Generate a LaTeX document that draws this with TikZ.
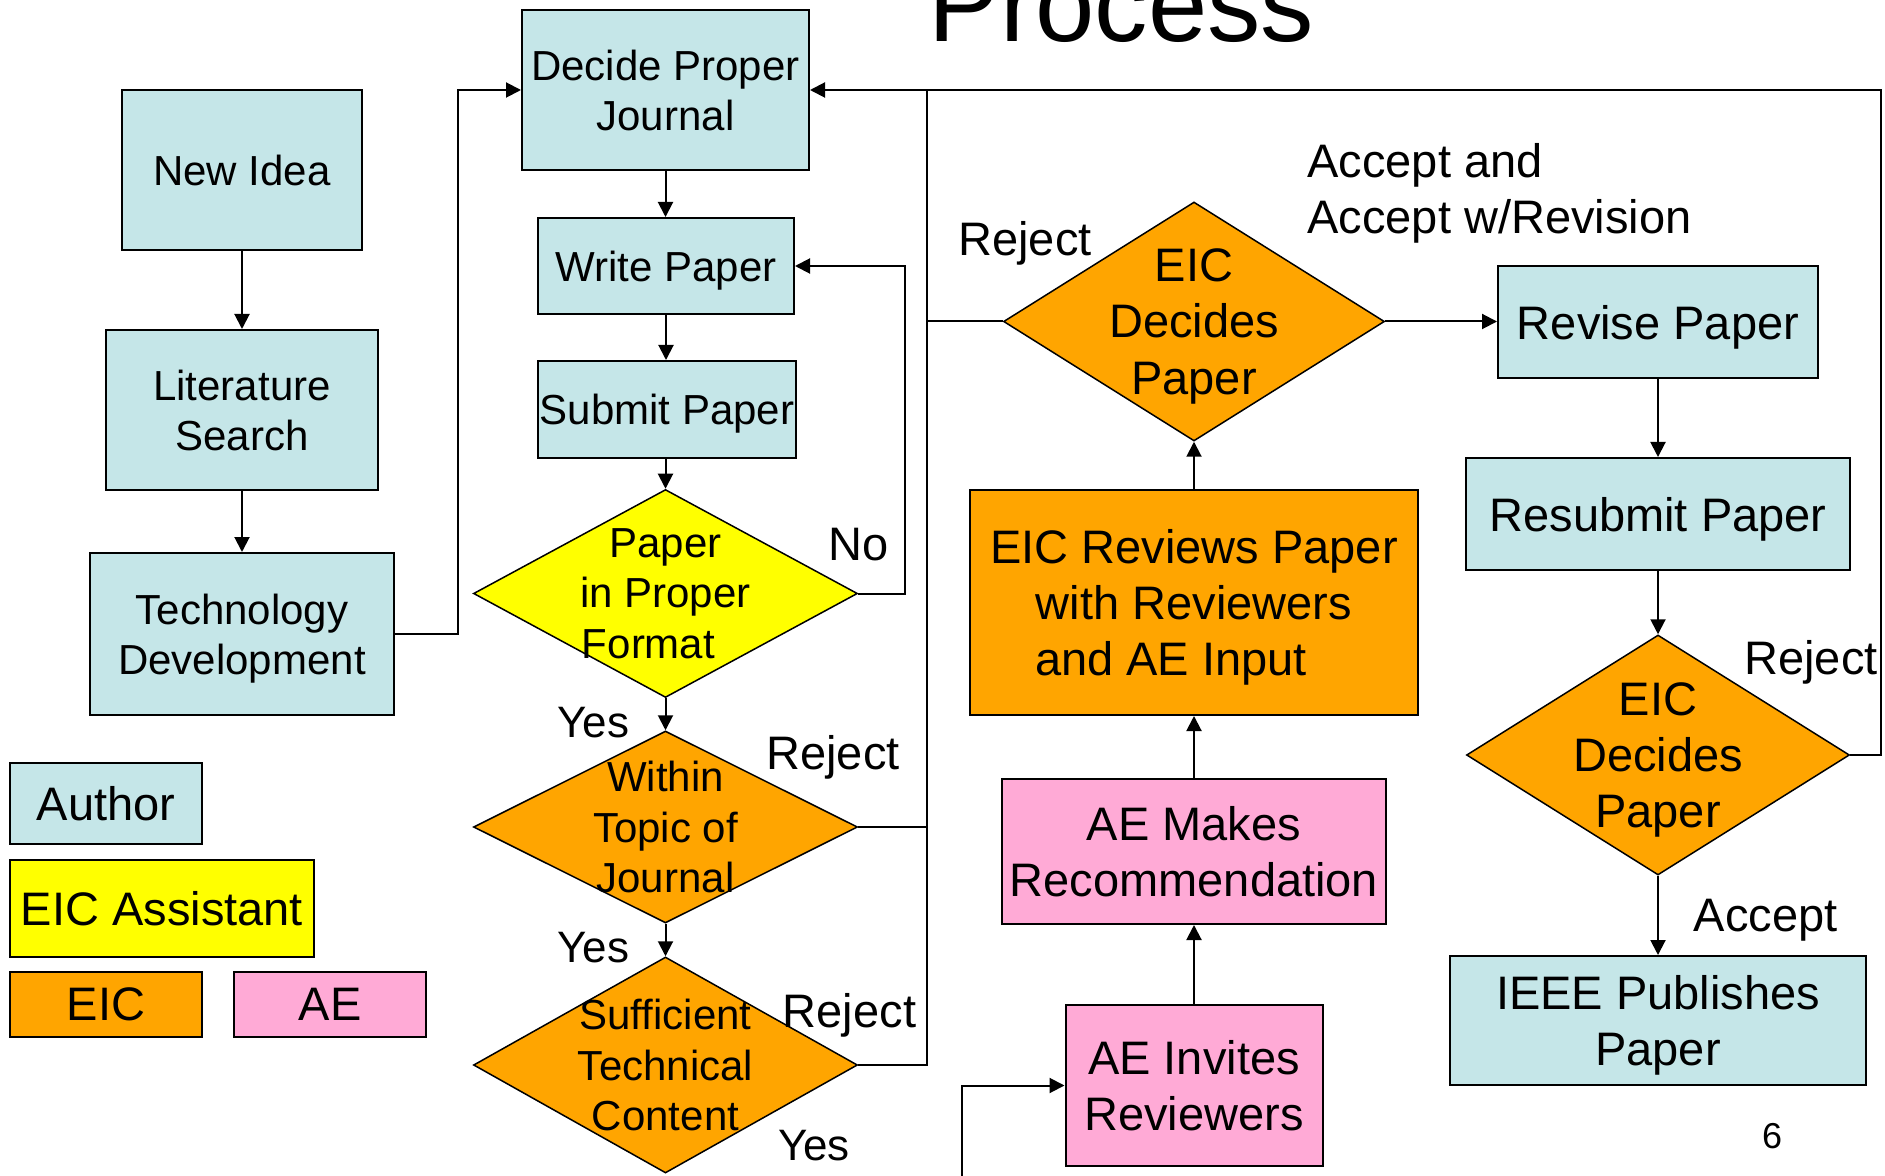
\documentclass[tikz,border=0pt]{standalone}
\usepackage{fontspec}
\setmainfont{Liberation Sans}
\usetikzlibrary{shapes.geometric,arrows.meta,calc}
\definecolor{authc}{RGB}{197,230,232}
\definecolor{eicc}{RGB}{255,165,0}
\definecolor{aec}{RGB}{255,170,214}
\definecolor{asstc}{RGB}{255,255,0}
\begin{document}
\begin{tikzpicture}[x=0.5pt,y=-0.5pt,
  every node/.style={inner sep=0pt},
  box/.style={draw, line width=1pt, rectangle, align=center, text depth=0pt},
  auth/.style={box, fill=authc},
  dia/.style={draw, line width=0.75pt, diamond, inner sep=0pt},
  dtext/.style={align=center, text depth=0pt},
  fs/.style={font=\fontsize{21}{25.2}\selectfont},
  fl/.style={font=\fontsize{23.5}{28.2}\selectfont},
  fy/.style={font=\fontsize{22}{26.4}\selectfont},
  conn/.style={line width=1pt},
  arr/.style={-{Triangle[length=7.5pt,width=7.5pt]}}]
\useasboundingbox (0,0) rectangle (1885,1176);

% title (cropped)
\node[font=\fontsize{53.3}{64}\selectfont, anchor=base west] (title) at (928.5,41.7) {Process};

% left column
\node[auth, fs, minimum width=120pt, minimum height=80pt] (newidea) at (242,170) {New Idea};
\node[auth, fs, minimum width=136pt, minimum height=80pt] (lit) at (242,410) {Literature\\Search};
\node[auth, fs, minimum width=152pt, minimum height=81pt] (tech) at (242,634) {Technology\\Development};

% middle column
\node[auth, fs, minimum width=143.5pt, minimum height=80pt] (decide) at (665.5,90) {Decide Proper\\Journal};
\node[auth, fs, minimum width=128pt, minimum height=48pt] (write) at (666,266) {Write Paper};
\node[auth, fs, minimum width=129pt, minimum height=48.5pt] (submit) at (667,409.5) {Submit Paper};
\node[dia, fill=asstc, minimum width=192pt, minimum height=104pt] (d1) at (665.5,593.5) {};
\node[fs, dtext] (d1t) at (d1) {Paper\\in Proper\\Format\hspace*{17pt}};
\node[dia, fill=eicc, minimum width=192pt, minimum height=96pt] (d2) at (665.5,827) {};
\node[fs, dtext] (d2t) at (d2) {Within\\Topic of\\Journal};
\node[dia, fill=eicc, minimum width=192pt, minimum height=108pt] (d3) at (665.5,1065) {};
\node[fs, dtext] (d3t) at (d3) {Sufficient\\Technical\\Content};

% legend
\node[auth, fl, minimum width=96pt, minimum height=40.5pt] (lauth) at (106,803.5) {Author};
\node[box, fill=asstc, fl, minimum width=152pt, minimum height=48.5pt] (lasst) at (162,908.5) {EIC Assistant};
\node[box, fill=eicc, fl, minimum width=96pt, minimum height=32.5pt] (leic) at (106,1004.5) {EIC};
\node[box, fill=aec, fl, minimum width=96pt, minimum height=32.5pt] (lae) at (330,1004.5) {AE};

% right part
\node[dia, fill=eicc, minimum width=190.5pt, minimum height=119.5pt] (e1) at (1194,321.5) {};
\node[fl, dtext] (e1t) at (e1) {EIC\\Decides\\Paper};
\node[auth, fl, minimum width=160pt, minimum height=56pt] (revise) at (1658,322) {Revise Paper};
\node[auth, fl, minimum width=192pt, minimum height=56pt] (resub) at (1658,514) {Resubmit Paper};
\node[box, fill=eicc, fl, minimum width=224pt, minimum height=112.5pt] (reviews) at (1194,602.5) {EIC Reviews Paper\\with Reviewers\\and AE Input\hspace*{23pt}};
\node[box, fill=aec, fl, minimum width=192pt, minimum height=72.5pt] (aemakes) at (1194,851.5) {AE Makes\\Recommendation};
\node[box, fill=aec, fl, minimum width=128.5pt, minimum height=80.5pt] (aeinv) at (1194,1085.5) {AE Invites\\Reviewers};
\node[dia, fill=eicc, minimum width=191.5pt, minimum height=120pt] (e2) at (1658,755) {};
\node[fl, dtext] (e2t) at (e2) {EIC\\Decides\\Paper};
\node[auth, fl, minimum width=208pt, minimum height=64.5pt] (ieee) at (1658,1020.5) {IEEE Publishes\\Paper};

% junctions
\coordinate (j1) at (458,90);
\coordinate (j2) at (905,266);
\coordinate (j3) at (927,90);
\coordinate (j4) at (1881,90);
\coordinate (j5) at (962,1176);

% connectors
\draw[conn,arr] (newidea.south) -- (lit.north);
\draw[conn,arr] (lit.south) -- (tech.north);
\draw[conn,arr] (tech.east) -| (j1) -- (decide.west);
\draw[conn,arr] (decide.south) -- (decide.south |- write.north);
\draw[conn,arr] (write.south) -- (write.south |- submit.north);
\draw[conn,arr] (d1.north |- submit.south) -- (d1.north);
\draw[conn,arr] (d1.south) -- (d2.north);
\draw[conn,arr] (d2.south) -- (d3.north);
\draw[conn,arr] (d1.east) -| (j2) -- (write.east);
\draw[conn,arr] (d3.east) -| (j3) -- (decide.east);
\draw[conn] (d2.east) -- (d2.east -| j3);
\draw[conn] (e1.west) -- (e1.west -| j3);
\draw[conn] (e2.east) -| (j4) -- (j3);
\draw[conn,arr] (e1.east) -- (e1.east -| revise.west);
\draw[conn,arr] (revise.south) -- (resub.north);
\draw[conn,arr] (resub.south) -- (e2.north);
\draw[conn,arr] (e2.south) -- (ieee.north);
\draw[conn,arr] (reviews.north) -- (e1.south);
\draw[conn,arr] (aemakes.north) -- (reviews.south);
\draw[conn,arr] (aeinv.north) -- (aemakes.south);
\draw[conn,arr] (j5) |- (aeinv.west);

% labels
\node[fl, anchor=base] (no) at (859,560.7) {No};
\node[fy, anchor=base] (yes1) at (593.5,737) {Yes};
\node[fy, anchor=base] (yes2) at (593.5,962.7) {Yes};
\node[fy, anchor=base] (yes3) at (814,1160) {Yes};
\node[fl, anchor=base] (rej1) at (833,769.4) {Reject};
\node[fl, anchor=base] (rej2) at (849.5,1027.8) {Reject};
\node[fl, anchor=base] (rej3) at (1025,255.6) {Reject};
\node[fl, anchor=base] (rej4) at (1811,674) {Reject};
\node[fl, anchor=base] (acc) at (1765.5,931) {Accept};
\node[fl, anchor=base west] (acc1) at (1307,178) {Accept and};
\node[fl, anchor=base west] (acc2) at (1307,233.5) {Accept w/Revision};
\node[font=\fontsize{18}{21}\selectfont, anchor=base] (pg) at (1772,1148) {6};
\end{tikzpicture}
\end{document}
